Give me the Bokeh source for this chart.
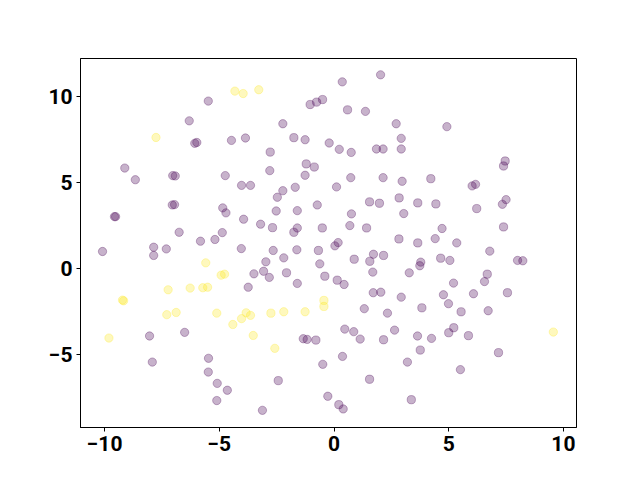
from bokeh.plotting import figure
from bokeh.models import FixedTicker, Range1d
from bokeh.embed import file_html
from bokeh.resources import INLINE

# Class 0 (purple) points
x_purple = [
    -5.48, -6.31, -6.07, -5.98, -4.47, -3.86, -9.12, -8.66, -7.03, -6.92, -4.74, -4.03, -3.64,
    2.03, 0.36, -1.04, -0.76, -0.50, 0.59, 1.37, -2.23, 2.71, -1.75, -1.26, 2.93, -0.21, 0.23,
    0.75, 1.85, 2.14, 2.93, -2.78, -2.80, -1.21, -0.86, -1.26, 0.73, 2.14, 2.97,
    4.92, 7.46, 7.39, 4.22, 6.17, 6.02,
    -7.05, -6.95, -9.57, -9.52, -4.85, -4.71, -3.94, -6.75, -5.82, -5.19, -4.87, -10.09, -7.86,
    -7.86, -7.31, -4.04, -3.74,
    -2.23, -1.69, -2.47, 0.11, -0.73, -2.52, -1.60, -3.20, -2.68, -1.60, -1.75, -0.51, 0.76,
    0.69, 1.42, 1.55, 1.98, 2.84, 3.04, 2.83, 0.18, 0.04, -2.65, -1.62, -0.68, -2.19, -2.97,
    -0.62, 0.88, 1.72, 1.56, 2.16, -3.49, -3.07, -2.82, -2.07, -0.40, -1.60, 0.14, 0.44, 1.69,
    1.71, 2.04, 2.93, 3.28,
    1.32, 2.33, 0.47, 0.86, 1.14, 2.64, 2.16, -1.34, -1.17, -0.79, 0.37, -0.49, -2.43, 1.55,
    -0.27, 0.21, 0.40, -3.12, 3.20, 3.37,
    -8.04, -6.51, -7.92, -5.47, -5.48, -5.09, -4.65, -5.11,
    3.65, 4.44, 6.22, 7.50, 7.34, 4.71, 7.39, 4.41, 3.65, 5.35, 6.79, 4.65, 5.05, 3.78, 3.74,
    8.00, 8.23, 6.68, 6.56, 5.21, 4.77, 6.08, 7.56, 4.99, 3.83,
    5.54, 6.72, 5.22, 5.00, 3.64, 4.25, 5.86, 3.76, 7.17, 5.51,
]
y_purple = [
    9.75, 8.60, 7.29, 7.34, 7.46, 7.60, 5.85, 5.17, 5.41, 5.39, 5.41, 4.84, 4.84,
    11.28, 10.87, 9.55, 9.69, 9.84, 9.24, 9.15, 8.43, 8.43, 7.62, 7.50, 7.58, 7.31, 6.94,
    6.76, 6.96, 6.96, 6.96, 6.78, 5.70, 6.09, 5.91, 5.43, 5.29, 5.29, 5.08,
    8.26, 6.26, 5.97, 5.23, 4.90, 4.81,
    3.70, 3.72, 3.02, 3.02, 3.53, 3.24, 2.87, 2.11, 1.59, 1.69, 2.09, 0.99, 1.24,
    0.76, 1.14, 1.16, -1.09,
    4.53, 4.73, 4.15, 4.75, 3.70, 3.35, 3.37, 2.58, 2.38, 2.36, 2.11, 2.36, 3.18,
    2.50, 2.36, 3.88, 3.80, 4.11, 3.20, 1.72, 1.51, 1.32, 1.05, 1.09, 1.05, 0.62, 0.39,
    0.27, 0.54, 0.83, 0.42, 0.76, -0.31, -0.16, -0.52, -0.25, -0.45, -0.87, -0.68, -0.93, -0.21,
    -1.41, -1.38, -1.67, -0.25,
    -2.34, -2.60, -3.53, -3.68, -4.11, -3.59, -4.15, -4.09, -4.13, -4.17, -5.12, -5.58, -6.53, -6.45,
    -7.44, -7.93, -8.18, -8.26, -5.45, -7.64,
    -3.93, -3.72, -5.45, -5.23, -6.03, -6.69, -7.09, -7.69,
    3.82, 3.76, 3.49, 4.01, 3.74, 2.33, 2.42, 1.74, 1.49, 1.49, 1.01, 0.60, 0.47, 0.37, 0.16,
    0.47, 0.45, -0.33, -0.76, -0.85, -1.53, -1.47, -1.41, -2.05, -2.29,
    -2.52, -2.46, -3.45, -3.74, -3.93, -4.07, -3.91, -4.75, -4.90, -5.89,
]

# Class 1 (yellow) points
x_yellow = [
    -4.32, -3.96, -3.28, -7.76, -5.59, -4.92, -4.77, -7.23, -6.27, -5.72, -5.51, -9.22, -9.17,
    -0.44, -0.44, -2.75, -2.19, -1.26, -3.52, -2.58, -7.29, -6.88, -5.11, -3.83, -4.03, -4.41,
    -3.64, -9.81, 9.56,
]
y_yellow = [
    10.33, 10.19, 10.41, 7.63, 0.33, -0.39, -0.33, -1.24, -1.14, -1.12, -1.09, -1.84, -1.88,
    -1.86, -2.21, -2.60, -2.52, -2.52, -3.90, -4.65, -2.69, -2.56, -2.60, -2.58, -2.92, -3.26,
    -2.73, -4.05, -3.70,
]

x_ticks = [-10, -5, 0, 5, 10]
x_tick_labels = ["\u221210", "\u22125", "0", "5", "10"]
y_ticks = [-5, 0, 5, 10]
y_tick_labels = ["\u22125", "0", "5", "10"]

p = figure(
    width=632, height=472,
    frame_width=496, frame_height=369,
    output_backend="svg", toolbar_location=None,
    x_range=Range1d(-11.05, 10.57), y_range=Range1d(-9.26, 12.23),
)
p.min_border_left = 80
p.min_border_top = 58
p.min_border_right = 56
p.min_border_bottom = 45

p.scatter(x_purple, y_purple, size=8.3, fill_color="#440154", line_color="#440154",
          fill_alpha=0.3, line_alpha=0.3, line_width=1)
p.scatter(x_yellow, y_yellow, size=8.3, fill_color="#fde725", line_color="#fde725",
          fill_alpha=0.3, line_alpha=0.3, line_width=1)

p.grid.visible = False
p.outline_line_color = "black"
p.outline_line_width = 1
p.outline_line_alpha = 1.0
p.background_fill_color = "white"
p.border_fill_color = "white"

p.xaxis.ticker = FixedTicker(ticks=x_ticks)
p.yaxis.ticker = FixedTicker(ticks=y_ticks)
p.xaxis.major_label_overrides = {t: l for t, l in zip(x_ticks, x_tick_labels)}
p.yaxis.major_label_overrides = {t: l for t, l in zip(y_ticks, y_tick_labels)}

for ax in (p.xaxis, p.yaxis):
    ax.axis_line_color = "black"
    ax.axis_line_width = 1
    ax.major_tick_line_color = "black"
    ax.major_tick_line_width = 1
    ax.major_tick_out = 4
    ax.major_tick_in = 0
    ax.minor_tick_line_color = None
    ax.major_label_text_font = "Roboto"
    ax.major_label_text_font_style = "bold"
    ax.major_label_text_font_size = "21px"
    ax.major_label_text_color = "black"
    ax.major_label_standoff = 4

open("out.html", "w").write(file_html(p, INLINE))
